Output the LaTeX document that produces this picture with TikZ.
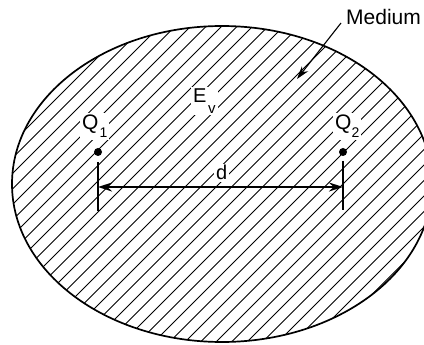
\documentclass[tikz,border=0pt]{standalone}
\usepackage{fontspec}
\setmainfont{Liberation Sans}
\usetikzlibrary{arrows.meta}
\tikzset{
  hatch/.style={line width=0.9pt, black},
  outline/.style={line width=1.7pt, black},
  tick/.style={line width=1.7pt, black},
  dimarrow/.style={line width=1.6pt, {Stealth[length=14pt,width=9pt]}-{Stealth[length=14pt,width=9pt]}},
  pointer/.style={line width=1.1pt, -{Stealth[length=13pt,width=8pt]}},
  dot/.style={circle, fill=black, inner sep=0pt, minimum size=8pt},
  lbl/.style={anchor=base west, fill=white, inner sep=2pt, font=\fontsize{21}{24}\selectfont},
  lblsmall/.style={anchor=base west, fill=white, inner sep=2pt, font=\fontsize{20}{24}\selectfont},
  plainlbl/.style={anchor=base west, inner sep=2pt, font=\fontsize{21}{24}\selectfont}
}
\begin{document}
\begin{tikzpicture}[x=1pt,y=-1pt]
\useasboundingbox (0,0) rectangle (424,345);
\clip (0,0) rectangle (424,345);
% hatched medium
\begin{scope}
  \clip (222,184) ellipse [x radius=210, y radius=158];
  \foreach \c in {0,15.5,...,800} \draw[hatch] (\c,0) -- (\c-400,400);
\end{scope}
\draw[outline] (222,184) ellipse [x radius=210, y radius=158];
% labels
\node[lbl] (lq1) at (80,130) {Q\kern1pt\raisebox{-8pt}{\fontsize{14}{14}\selectfont 1}};
\node[lbl] (lq2) at (333,130) {Q\raisebox{-8pt}{\fontsize{14}{14}\selectfont 2}};
\node[lblsmall] (ev) at (191,103) {E\kern1.5pt\raisebox{-10pt}{\fontsize{15}{15}\selectfont v}};
\node[lblsmall] (dl) at (214,180) {d};
\node[plainlbl] (medium) at (344,25) {Medium};
% charges
\node[dot] (q1) at (98,152) {};
\node[dot] (q2) at (343,152) {};
% dimension ticks
\coordinate (t1a) at (98,162);
\coordinate (t1b) at (98,211);
\coordinate (t2a) at (343,161);
\coordinate (t2b) at (343,210);
\draw[tick] (t1a) -- (t1b);
\draw[tick] (t2a) -- (t2b);
\coordinate (a1) at (98,187);
\coordinate (a2) at (343,187);
\draw[dimarrow] (a1) -- (a2);
% medium pointer
\coordinate (mstart) at (341,23);
\coordinate (mtip) at (297,79);
\draw[pointer] (mstart) -- (mtip);
\end{tikzpicture}
\end{document}
